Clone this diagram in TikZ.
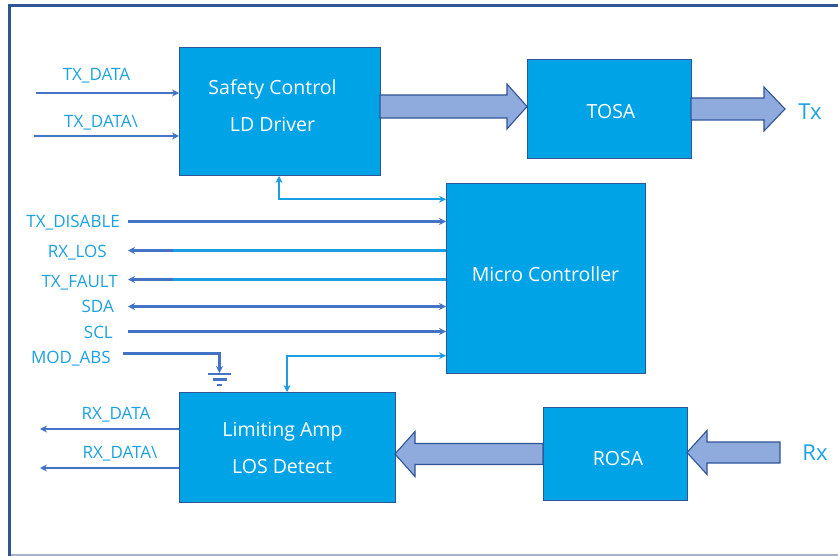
\documentclass[tikz,border=0pt]{standalone}
\usepackage{fontspec}
\setmainfont{Open Sans}
\usetikzlibrary{arrows.meta,calc}
\definecolor{boxfill}{HTML}{00A3E6}
\definecolor{boxline}{HTML}{2F5597}
\definecolor{fatfill}{HTML}{8FAADC}
\definecolor{dkc}{HTML}{4472C4}
\definecolor{ltc}{HTML}{1A9DE3}
\definecolor{lblc}{HTML}{1BA1E2}
\definecolor{frmc}{HTML}{2F5597}
\definecolor{frmb}{HTML}{A5B3CC}
\newcommand\fatarrow[5]{%
  \draw[fat] let \p1=(#1),\p2=(#2) in
  (\x1,\y2-#3) -- (\x2+#5,\y2-#3) -- (\x2+#5,\y2-#4) -- (\x2,\y2) --
  (\x2+#5,\y2+#4) -- (\x2+#5,\y2+#3) -- (\x1,\y2+#3) -- cycle;}
\begin{document}
\begin{tikzpicture}[x=1pt,y=-1pt,
  box/.style={draw=boxline,fill=boxfill,line width=1pt,inner sep=0pt,outer sep=0pt},
  boxtxt/.style={text=white,font=\fontsize{19.5}{19.5}\selectfont,align=center,inner sep=0pt,text height=13.9pt,text depth=0pt},
  lbl/.style={text=lblc,font=\fontsize{17}{17}\selectfont,inner sep=0pt,text height=12.1pt,text depth=0pt},
  big/.style={text=lblc,font=\fontsize{22}{22}\selectfont,inner sep=0pt,text height=15.7pt,text depth=0pt},
  fat/.style={draw=boxline,fill=fatfill,line width=1.1pt,line join=miter},
  dk/.style={draw=dkc,line width=2.3pt},
  lt/.style={draw=ltc,line width=2.3pt},
  tip/.style={-{Stealth[length=7pt,width=7pt]}},
  btip/.style={{Stealth[length=7pt,width=7pt]}-{Stealth[length=7pt,width=7pt]}}]
\useasboundingbox (0,0) rectangle (838,556);
% frame
\draw[frmb,line width=2pt] (10,555) -- (838,555);
\draw[frmc,line width=3pt] (9,556) -- (9,5.5) -- (838,5.5);
% blocks
\node[box,minimum width=201pt,minimum height=128pt] (sc) at (279.5,112) {};
\node[box,minimum width=164pt,minimum height=99pt] (tosa) at (609,109.5) {};
\node[box,minimum width=199pt,minimum height=189pt] (mc) at (545.5,278.5) {};
\node[box,minimum width=216pt,minimum height=110pt] (la) at (287,447) {};
\node[box,minimum width=144pt,minimum height=93pt] (rosa) at (615,453.5) {};
\node[boxtxt] (sct1) at (272.5,88) {Safety Control};
\node[boxtxt] (sct2) at (272.5,125) {LD Driver};
\node[boxtxt] (tosat) at (611,112) {TOSA};
\node[boxtxt] (mct) at (545.5,275) {Micro Controller};
\node[boxtxt] (lat1) at (282.5,430) {Limiting Amp};
\node[boxtxt] (lat2) at (282,467) {LOS Detect};
\node[boxtxt] (rosat) at (618,459) {ROSA};
% fat arrows
\coordinate (txtip) at (785,109);
\coordinate (rxs) at (780,452.5);
\fatarrow{sc.east}{$(tosa.west)+(0,-3)$}{11.5pt}{22.5pt}{-20pt}
\fatarrow{tosa.east}{txtip}{11pt}{22pt}{-21pt}
\fatarrow{rosa.west}{$(la.east)+(0,7)$}{10.5pt}{22.5pt}{20pt}
\fatarrow{rxs}{$(rosa.east)+(0,-1)$}{10.5pt}{22pt}{20pt}
\node[big] (tx) at (810,112) {Tx};
\node[big] (rx) at (815,453) {Rx};
% TX data inputs
\coordinate (txd1) at (36,93);
\coordinate (txd2) at (34,136);
\draw[dk,tip] (txd1) -- (txd1 -| sc.west);
\draw[dk,tip] (txd2) -- (txd2 -| sc.west);
\node[lbl] (ltxd1) at (96.5,74) {TX\_DATA};
\node[lbl] (ltxd2) at (101,121.5) {TX\_DATA\textbackslash};
% sc <-> mc
\coordinate (scmc) at (279,199.3);
\draw[lt,btip] (scmc |- sc.south) -- (scmc) -- (scmc -| mc.west);
% control lines
\coordinate (c1) at (128,221.5);
\coordinate (c2) at (128,250.5);
\coordinate (c3) at (128,279.5);
\coordinate (c4) at (128,306.5);
\coordinate (c5) at (128,331.5);
\coordinate (c6) at (123,353.5);
\coordinate (m2) at (173,250.5);
\coordinate (m3) at (173,279.5);
\draw[dk,tip] (c1) -- (c1 -| mc.west);
\draw[lt] (c2 -| mc.west) -- (m2);
\draw[dk,tip] (m2) -- (c2);
\draw[lt] (c3 -| mc.west) -- (m3);
\draw[dk,tip] (m3) -- (c3);
\draw[dk,btip] (c4) -- (c4 -| mc.west);
\draw[dk,tip] (c5) -- (c5 -| mc.west);
\node[lbl,anchor=east] (l1) at (120,221) {TX\_DISABLE};
\node[lbl,anchor=east] (l2) at (107,251) {RX\_LOS};
\node[lbl,anchor=east] (l3) at (118,281) {TX\_FAULT};
\node[lbl,anchor=east] (l4) at (114,306.5) {SDA};
\node[lbl,anchor=east] (l5) at (113,332) {SCL};
\node[lbl,anchor=east] (l6) at (111,357) {MOD\_ABS};
% MOD_ABS to ground
\coordinate (gnd) at (219.5,373);
\draw[dk,tip] (c6) -| (gnd);
\draw[dkc,line width=2.3pt] (208,374) -- (231,374);
\draw[dkc,line width=2.3pt] (212.5,379.5) -- (226.5,379.5);
\draw[dkc,line width=2.3pt] (217,385) -- (222,385);
% mc <-> la
\coordinate (mcla) at (287,355.7);
\draw[lt,btip] (mcla -| mc.west) -- (mcla) -- (mcla |- la.north);
% RX data outputs
\coordinate (rxd1) at (40,429);
\coordinate (rxd2) at (40,468);
\draw[dk,tip] (rxd1 -| la.west) -- (rxd1);
\draw[dk,tip] (rxd2 -| la.west) -- (rxd2);
\node[lbl] (lrxd1) at (116,413) {RX\_DATA};
\node[lbl] (lrxd2) at (120,452) {RX\_DATA\textbackslash};
\end{tikzpicture}
\end{document}
